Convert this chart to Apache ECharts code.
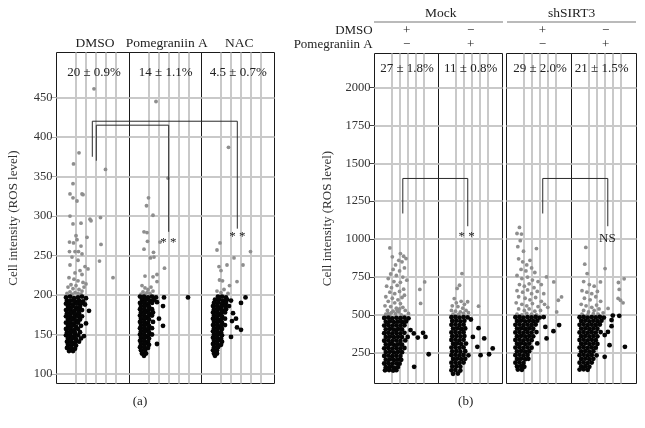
<!DOCTYPE html>
<html><head><meta charset="utf-8">
<script src="https://cdn.jsdelivr.net/npm/echarts@6/dist/echarts.min.js"></script>
<style>html,body{margin:0;padding:0;background:#fff}#c{width:645px;height:428px}</style>
</head><body><div id="c"></div><script>
// ---------- DATA ----------
const panelNamesA = ['DMSO', 'Pomegraniin A', 'NAC'];
const pctA = ['20 ± 0.9%', '14 ± 1.1%', '4.5 ± 0.7%'];
const groupNamesB = ['Mock', 'shSIRT3'];
const rowNamesB = ['DMSO', 'Pomegraniin A'];
const dmsoSignsB = ['+', '−', '+', '−'];
const pomSignsB = ['−', '+', '−', '+'];
const pctB = ['27 ± 1.8%', '11 ± 0.8%', '29 ± 2.0%', '21 ± 1.5%'];
const ticksA = [100, 150, 200, 250, 300, 350, 400, 450];
const ticksB = [250, 500, 750, 1000, 1250, 1500, 1750, 2000];
const laneLines = [2, 3, 4, 5, 6];
const yTitle = 'Cell intensity (ROS level)';
const signifA = ['* *', '* *'];
const signifB = ['* *', 'NS'];

const dmsoA = [
[3.8,461],[2.3,380],[1.75,366],[4.95,359],[1.7,341],[1.4,328],[2.6,328],[2.7,327],[1.7,323],[2.1,319],[1.4,300],[4.45,298],[3.4,296],[3.5,294],[2.5,291],[1.7,290],[2.0,275],[3.1,273],[2.1,270],[1.35,267],[1.75,266],[4.5,264],[2.5,262],[1.35,255],[1.9,255],[2.25,255],[2.6,252],[1.6,248],[2.2,244],[4.35,243],[1.4,238],[2.9,236],[3.2,233],[2.4,231],[1.9,228],[2.6,226],[5.7,222],[1.3,222],[1.8,220],[2.2,218],[2.7,216],[3.0,214],[1.5,213],[2.0,212],[1.2,210],[2.8,210],[1.7,208],[2.3,207],[2.6,205],[1.4,204],[1.9,203],[2.2,202],[1.1,202],[2.5,201],[1.6,201],
[1.0,197],[1.4,198],[1.8,196],[2.2,197],[2.6,198],[3.0,196],
[1.1,193],[1.5,193],[1.9,192],[2.3,193],[2.7,192],
[1.0,189],[1.3,189],[1.7,188],[2.1,189],[2.5,189],[2.9,188],
[1.2,185],[1.6,185],[2.0,184],[2.4,185],
[1.0,181],[1.4,181],[1.8,180],[2.2,181],[2.6,181],[3.3,180],
[1.1,177],[1.5,177],[1.9,176],[2.3,177],
[1.0,173],[1.4,173],[1.8,172],[2.2,173],[2.6,173],
[1.2,169],[1.6,169],[2.0,168],[2.4,169],
[1.0,165],[1.4,165],[1.8,164],[2.2,165],[3.0,164],
[1.2,161],[1.6,161],[2.0,160],[2.5,161],
[1.0,157],[1.4,157],[1.8,156],[2.2,157],
[1.1,153],[1.5,153],[1.9,152],[2.4,153],
[1.0,149],[1.4,149],[1.8,148],[2.2,149],[2.8,148],
[1.2,145],[1.6,145],[2.0,144],[2.5,145],
[1.1,141],[1.5,141],[1.9,140],[2.3,141],
[1.2,137],[1.6,137],[2.0,136],
[1.1,133],[1.5,133],[1.9,132],
[1.3,129],[1.7,129]
];
const pomA = [
[2.7,445],[3.9,348],[1.95,323],[1.75,313],[2.4,301],[1.5,280],[1.8,279],[1.85,268],[3.1,267],[1.5,258],[2.45,254],[2.5,248],[2.15,247],[3.55,234],[2.8,226],[1.6,224],[2.4,223],[2.8,217],[1.3,212],[2.2,210],[1.6,209],[1.9,207],[2.4,205],[1.4,204],[1.8,203],[2.1,202],[1.2,201],[1.6,201],
[1.1,198],[1.5,198],[1.9,197],[2.3,198],[2.7,197],[3.5,197],[5.9,197],
[1.3,194],[1.7,194],[2.1,193],[2.5,194],
[1.1,190],[1.5,190],[1.9,189],[2.3,190],[2.8,191],
[1.2,186],[1.6,186],[2.0,185],[3.4,186],
[1.1,182],[1.5,182],[1.9,181],[2.3,182],
[1.2,178],[1.6,178],[2.0,177],[2.4,178],
[1.1,174],[1.5,174],[1.9,173],[2.3,174],
[1.2,170],[1.6,170],[2.0,169],[3.0,170],
[1.1,166],[1.5,166],[1.9,165],[2.4,166],
[1.2,162],[1.6,162],[2.0,161],[3.4,161],
[1.1,158],[1.5,158],[1.9,157],[2.3,158],
[1.2,154],[1.6,154],[2.0,153],
[1.1,150],[1.5,150],[1.9,149],[2.3,150],
[1.2,146],[1.6,146],[2.0,145],
[1.1,142],[1.5,142],[1.9,141],
[1.2,138],[1.6,138],[2.0,137],[2.8,138],
[1.1,134],[1.5,134],[1.9,133],
[1.2,130],[1.6,130],
[1.3,126],[1.7,126],
[1.5,123]
];
const nacA = [
[2.75,387],[1.9,266],[1.6,257],[4.95,255],[3.3,247],[2.6,238],[4.2,238],[1.8,236],[2.0,231],[1.85,219],[2.15,218],[3.6,217],[2.85,212],[2.3,207],[1.6,205],[2.0,203],[2.7,202],
[1.7,198],[2.1,198],[2.5,197],[4.45,197],
[1.4,194],[1.8,194],[2.2,193],[2.6,194],[3.0,193],
[1.3,190],[1.7,190],[2.1,189],[2.5,190],[4.0,190],
[1.2,186],[1.6,186],[2.0,185],[2.4,186],[2.8,186],
[1.3,182],[1.7,182],[2.1,181],[2.5,182],
[1.2,178],[1.6,178],[2.0,177],[2.4,178],[3.2,177],
[1.3,174],[1.7,174],[2.1,173],
[1.2,170],[1.6,170],[2.0,169],[2.4,170],[3.5,170],
[1.3,166],[1.7,166],[2.1,165],[3.1,167],
[1.2,162],[1.6,162],[2.0,161],[2.4,162],
[1.3,158],[1.7,158],[2.1,157],[3.6,159],
[1.2,154],[1.6,154],[2.0,153],[4.0,156],
[1.3,150],[1.7,150],[2.1,149],
[1.2,146],[1.6,146],[2.0,145],[3.0,147],
[1.3,142],[1.7,142],[2.1,141],
[1.2,138],[1.6,138],[2.0,137],
[1.3,134],[1.7,134],
[1.2,130],[1.6,130],
[1.3,126],[1.6,126],
[1.4,123]
];
const mockDmsoB = [
[1.8,942],[3.1,905],[3.5,887],[3.8,872],[2.1,883],[2.9,860],[2.5,830],[3.3,850],[2.2,800],[3.0,790],[3.6,810],[1.9,770],[2.6,760],[3.4,750],[3.9,729],[1.6,740],[2.3,720],[3.1,715],[5.5,668],[6.1,718],[1.4,690],[2.0,680],[2.7,695],[3.5,670],[1.8,650],[2.4,640],[3.0,655],[3.6,630],[1.3,620],[2.1,610],[2.8,600],[3.3,615],[1.6,590],[2.4,580],[3.1,575],[5.6,576],[1.2,560],[1.9,555],[2.6,545],[3.4,550],[3.0,540],[1.5,530],[2.2,525],[2.7,530],[2.9,520],[3.7,530],[1.6,510],[2.0,515],[1.3,505],[1.8,500],[2.5,508],[3.2,500],[4.1,510],
[1.1,480],[1.6,482],[2.1,478],[2.6,481],[3.1,479],[3.6,482],[4.1,478],
[1.3,455],[1.8,457],[2.3,453],[2.8,456],[3.3,454],[3.8,457],
[1.1,430],[1.6,432],[2.1,428],[2.6,431],[3.1,429],[3.6,432],
[1.3,405],[1.8,407],[2.3,403],[2.8,406],[3.3,404],[4.35,400],[4.76,378],
[1.1,380],[1.6,382],[2.1,378],[2.6,381],[3.1,379],[3.6,382],[5.9,382],
[1.3,355],[1.8,357],[2.3,353],[2.8,356],[3.3,354],[4.0,355],[5.25,351],[6.2,355],
[1.1,330],[1.6,332],[2.1,328],[2.6,331],[3.1,329],[3.7,332],
[1.3,305],[1.8,307],[2.3,303],[2.8,306],[3.3,304],
[1.1,280],[1.6,282],[2.1,278],[2.6,281],[3.1,279],[3.6,282],
[1.3,255],[1.8,257],[2.3,253],[2.8,256],[3.3,254],[6.6,241],
[1.1,230],[1.6,232],[2.1,228],[2.6,231],[3.1,229],
[1.3,205],[1.8,207],[2.3,203],[2.8,206],[3.2,204],
[1.1,180],[1.6,182],[2.1,178],[2.6,181],[3.0,179],
[1.3,155],[1.8,157],[2.3,153],[2.8,156],[4.8,158],
[1.2,135],[1.7,137],[2.2,133],[2.6,136]
];
const mockPomB = [
[2.8,773],[2.5,696],[2.2,675],[4.85,558],[1.85,608],[3.5,587],[2.1,580],[2.7,590],[3.1,570],[1.6,560],[2.3,555],[2.9,545],[1.5,530],[2.0,525],[2.6,520],[3.3,530],[1.7,505],[2.4,505],[3.0,510],[3.6,515],
[1.5,485],[2.0,487],[2.5,483],[3.0,486],[3.5,484],
[1.6,460],[2.1,462],[2.6,458],[3.1,461],[3.9,470],
[1.5,435],[2.0,437],[2.5,433],[3.0,436],
[1.7,410],[2.2,412],[2.7,408],[3.2,411],[4.85,413],
[1.5,385],[2.0,387],[2.5,383],[3.0,386],
[1.6,360],[2.1,362],[2.6,358],[3.1,361],[4.15,355],
[1.5,335],[2.0,337],[2.5,333],[3.0,336],[5.55,345],
[1.7,310],[2.2,312],[2.7,308],[3.3,311],
[1.5,285],[2.0,287],[2.5,283],[3.0,286],[4.7,290],[6.6,279],
[1.6,260],[2.1,262],[2.6,258],[3.2,261],
[1.5,235],[2.0,237],[2.5,233],[3.0,236],[3.6,234],[5.1,235],[6.15,241],
[1.7,210],[2.2,212],[2.7,208],[3.2,211],
[1.5,185],[2.0,187],[2.5,183],[3.0,186],
[1.6,160],[2.1,162],[2.6,158],
[1.5,135],[2.0,137],[2.6,133],
[1.7,112],[2.3,114]
];
const shDmsoB = [
[1.5,1077],[1.75,1033],[1.2,1037],[1.6,990],[1.3,950],[3.6,938],[2.0,920],[1.9,850],[1.4,870],[2.4,830],[2.8,860],[1.7,800],[2.3,790],[3.0,810],[3.4,780],[4.84,751],[5.74,718],[1.2,760],[1.8,740],[2.5,750],[3.1,730],[3.8,720],[1.5,700],[2.1,690],[2.7,705],[3.3,680],[4.2,700],[1.2,660],[1.9,650],[2.5,665],[3.0,640],[3.7,655],[4.5,640],[6.7,619],[6.3,597],[1.4,620],[2.2,610],[2.8,600],[3.5,615],[4.2,590],[1.1,580],[1.8,570],[2.4,560],[3.1,575],[3.8,555],[4.6,570],[1.4,540],[2.1,530],[2.7,540],[3.4,525],[4.1,530],[6.1,520],[5.0,550],[1.2,505],[1.8,500],[2.4,510],[3.0,505],[3.6,500],
[1.0,485],[1.5,487],[2.0,483],[2.5,486],[3.0,484],[3.5,487],[4.0,483],[4.5,486],
[1.2,460],[1.7,462],[2.2,458],[2.7,461],[3.2,459],[3.7,462],[6.4,433],
[1.0,435],[1.5,437],[2.0,433],[2.5,436],[3.0,434],[3.5,437],[4.7,421],[5.7,393],
[1.2,410],[1.7,412],[2.2,408],[2.7,411],[3.2,409],
[1.0,385],[1.5,387],[2.0,383],[2.5,386],[3.0,384],[3.6,387],
[1.2,360],[1.7,362],[2.2,358],[2.7,361],[3.2,359],[4.85,345],
[1.0,335],[1.5,337],[2.0,333],[2.5,336],[3.0,334],
[1.2,310],[1.7,312],[2.2,308],[2.7,311],[3.7,312],
[1.0,285],[1.5,287],[2.0,283],[2.5,286],[3.0,284],
[1.2,260],[1.7,262],[2.2,258],[2.7,261],
[1.0,235],[1.5,237],[2.0,233],[2.5,236],
[1.2,210],[1.7,212],[2.2,208],[2.6,211],
[1.0,185],[1.5,187],[2.0,183],
[1.2,160],[1.7,162],[2.1,158],
[1.3,140],[1.8,138]
];
const shPomB = [
[1.67,945],[1.54,835],[4.05,806],[1.83,773],[3.48,718],[5.7,714],[6.4,738],[5.8,668],[5.66,609],[5.95,597],[6.27,580],[4.42,543],[3.81,514],[1.4,720],[2.1,700],[2.7,690],[1.2,660],[1.8,650],[2.4,640],[3.1,655],[1.5,610],[2.2,600],[2.9,620],[3.5,590],[1.1,570],[1.7,560],[2.4,550],[3.0,565],[1.4,530],[2.0,520],[2.7,530],[3.3,540],[1.2,505],[1.9,500],[2.6,508],[3.2,505],
[0.9,485],[1.4,487],[1.9,483],[2.4,486],[2.9,484],[3.4,487],[3.9,483],[5.0,496],[5.8,494],
[1.1,460],[1.6,462],[2.1,458],[2.6,461],[3.1,459],[3.6,462],[4.85,466],
[0.9,435],[1.4,437],[1.9,433],[2.4,436],[2.9,434],[3.4,437],[4.85,426],
[1.1,410],[1.6,412],[2.1,408],[2.6,411],[3.1,409],[4.4,388],
[0.9,385],[1.4,387],[1.9,383],[2.4,386],[2.9,384],[3.5,387],
[1.1,360],[1.6,362],[2.1,358],[2.6,361],[3.1,359],[4.0,367],
[0.9,335],[1.4,337],[1.9,333],[2.4,336],[2.9,334],
[1.1,310],[1.6,312],[2.1,308],[2.6,311],[3.1,309],
[0.9,285],[1.4,287],[1.9,283],[2.4,286],[2.9,284],[4.6,301],[6.5,290],
[1.1,260],[1.6,262],[2.1,258],[2.6,261],
[0.9,235],[1.4,237],[1.9,233],[2.4,236],[3.0,234],[4.0,224],
[1.1,210],[1.6,212],[2.1,208],[2.6,211],
[0.9,185],[1.4,187],[1.9,183],[2.4,186],
[1.1,160],[1.6,162],[2.1,158],
[0.9,140],[1.4,142],[1.9,138]
];
// comparison brackets (overlay units, value)
const bracketA1 = [[3.58,375],[3.58,420],[18.08,420],[18.08,284]];
const bracketA2 = [[3.98,370],[3.98,415],[11.22,415],[11.22,280]];
const bracketB1 = [[3.5,1169],[3.5,1400],[11.53,1400],[11.53,1085]];
const bracketB2 = [[20.8,1169],[20.8,1400],[28.84,1400],[28.84,1085]];

// ---------- LAYOUT ----------
const SERIF = '"Liberation Serif","DejaVu Serif",serif';
const GRID_COL = '#c9c9c9';
const panels = [
  {data: dmsoA, left: 56.5, top: 52.5, width: 73, height: 331, xMin: 0.05, xMax: 7.35, yMin: 88, yMax: 507, ticks: ticksA, first: true, thr: 200, tickCol: '#aaa', gap: 36},
  {data: pomA, left: 129.5, top: 52.5, width: 72, height: 331, xMin: 0.05, xMax: 7.25, yMin: 88, yMax: 507, ticks: ticksA, thr: 200},
  {data: nacA, left: 201.5, top: 52.5, width: 73, height: 331, xMin: 0.05, xMax: 7.35, yMin: 88, yMax: 507, ticks: ticksA, thr: 200},
  {data: mockDmsoB, left: 374.5, top: 53.5, width: 64, height: 330, xMin: -0.1, xMax: 7.81, yMin: 48, yMax: 2224, ticks: ticksB, first: true, thr: 499, tickCol: '#444', gap: 40},
  {data: mockPomB, left: 438.5, top: 53.5, width: 64, height: 330, xMin: -0.1, xMax: 7.81, yMin: 48, yMax: 2224, ticks: ticksB, thr: 499},
  {data: shDmsoB, left: 506.5, top: 53.5, width: 65, height: 330, xMin: -0.1, xMax: 7.93, yMin: 48, yMax: 2224, ticks: ticksB, thr: 499},
  {data: shPomB, left: 571.5, top: 53.5, width: 65, height: 330, xMin: -0.1, xMax: 7.93, yMin: 48, yMax: 2224, ticks: ticksB, thr: 499}
];
const overlays = [
  {left: 56.5, top: 52.5, width: 218, height: 331, xMax: 21.8, yMin: 88, yMax: 507},
  {left: 374.5, top: 53.5, width: 262, height: 330, xMax: 32.39, yMin: 48, yMax: 2224}
];

const grid = [], xAxis = [], yAxis = [], series = [];
panels.forEach((p, i) => {
  grid.push({left: p.left, top: p.top, width: p.width, height: p.height, show: true, borderColor: '#1a1a1a', borderWidth: 1, containLabel: false, outerBoundsMode: 'none'});
  xAxis.push({gridIndex: i, type: 'value', min: p.xMin, max: p.xMax,
    axisLine: {show: false}, axisLabel: {show: false}, axisTick: {show: false}, splitLine: {show: false}});
  yAxis.push({gridIndex: i, type: 'value', min: p.yMin, max: p.yMax,
    axisLine: {show: false},
    axisTick: {show: !!p.first, length: 6, customValues: p.ticks, lineStyle: {color: p.tickCol || '#444', width: 1}},
    axisLabel: {show: !!p.first, customValues: p.ticks, margin: 4, fontFamily: SERIF, fontSize: 12.5, color: '#333',
      formatter: v => String(v)},
    splitLine: {show: false},
    name: p.first ? yTitle : '', nameLocation: 'middle', nameGap: p.gap || 30,
    nameTextStyle: {fontFamily: SERIF, fontSize: 13, color: '#333'}});
  // grid lines (lanes + value levels) drawn behind points
  series.push({type: 'line', xAxisIndex: i, yAxisIndex: i, data: [], silent: true, animation: false, z: 1,
    markLine: {silent: true, animation: false, symbol: ['none', 'none'], label: {show: false}, z: 1,
      lineStyle: {color: GRID_COL, width: 2, type: 'solid'},
      emphasis: {disabled: true},
      data: laneLines.map(v => ({xAxis: v})).concat(p.ticks.map(v => ({yAxis: v})))}});
});
panels.forEach((p, i) => {
  series.push({type: 'scatter', xAxisIndex: i, yAxisIndex: i, data: p.data, silent: true, animation: false,
    symbol: 'circle', symbolSize: v => (v[1] >= p.thr ? 3.8 : 4.8), itemStyle: {opacity: 1}, z: 3});
});
overlays.forEach((o, k) => {
  const gi = panels.length + k;
  grid.push({left: o.left, top: o.top, width: o.width, height: o.height, show: false, containLabel: false, outerBoundsMode: 'none'});
  xAxis.push({gridIndex: gi, type: 'value', min: 0, max: o.xMax, show: false});
  yAxis.push({gridIndex: gi, type: 'value', min: o.yMin, max: o.yMax, show: false});
});
[[bracketA1, 7], [bracketA2, 7], [bracketB1, 8], [bracketB2, 8]].forEach(([d, gi]) => {
  series.push({type: 'line', xAxisIndex: gi, yAxisIndex: gi, data: d, symbol: 'none', silent: true, animation: false,
    lineStyle: {color: '#2a2a2a', width: 1}, z: 4});
});

function txt(x, y, s, size, align) {
  return {type: 'text', x: x, y: y, silent: true, z: 10,
    style: {text: s, fill: '#222', font: (size || 13) + 'px ' + SERIF,
      align: align || 'center', textAlign: align || 'center', verticalAlign: 'middle', textVerticalAlign: 'middle'}};
}
const graphic = [];
const headA = [95, 166.7, 239.3];
panelNamesA.forEach((n, i) => graphic.push(txt(headA[i], 43.5, n, 13.5)));
pctA.forEach((n, i) => graphic.push(txt(headA[i] - 1, 72.5, n, 13)));
const colB = [406.7, 470.7, 542.3, 605.7];
const pctXB = [407, 470.7, 540, 601.7];
pctB.forEach((n, i) => graphic.push(txt(pctXB[i], 69, n, 13)));
graphic.push(txt(440.7, 13, groupNamesB[0], 13.5));
graphic.push(txt(571.7, 13, groupNamesB[1], 13.5));
graphic.push({type: 'line', silent: true, shape: {x1: 374, y1: 22, x2: 503, y2: 22}, style: {stroke: '#777', lineWidth: 1.2}});
graphic.push({type: 'line', silent: true, shape: {x1: 507, y1: 22, x2: 636, y2: 22}, style: {stroke: '#777', lineWidth: 1.2}});
graphic.push(txt(372.7, 30.5, rowNamesB[0], 13, 'right'));
graphic.push(txt(372.7, 45, rowNamesB[1], 13, 'right'));
colB.forEach((x, i) => { graphic.push(txt(x, 30.5, dmsoSignsB[i], 13)); graphic.push(txt(x, 45, pomSignsB[i], 13)); });
graphic.push(txt(168.3, 243, signifA[0], 13));
graphic.push(txt(237.3, 236.5, signifA[1], 13));
graphic.push(txt(466.7, 237, signifB[0], 13));
graphic.push(txt(607.3, 238.5, signifB[1], 13));
graphic.push(txt(140, 401.7, '(a)', 13));
graphic.push(txt(465.7, 401.7, '(b)', 13));

const chart = echarts.init(document.getElementById('c'), null, {renderer: 'canvas'});
chart.setOption({
  backgroundColor: '#fff',
  animation: false,
  grid, xAxis, yAxis, series, graphic,
  visualMap: [
    {type: 'piecewise', show: false, seriesIndex: [7, 8, 9], dimension: 1,
      pieces: [{lt: 200, color: '#050505'}, {gte: 200, color: '#8e8e8e'}]},
    {type: 'piecewise', show: false, seriesIndex: [10, 11, 12, 13], dimension: 1,
      pieces: [{lt: 499, color: '#050505'}, {gte: 499, color: '#8e8e8e'}]}
  ]
});
</script></body></html>
